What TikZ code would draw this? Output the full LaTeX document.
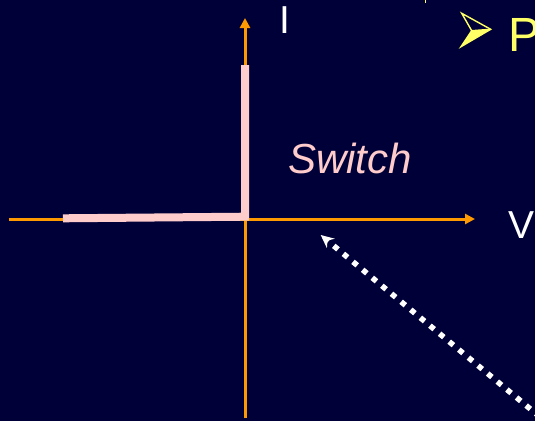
\documentclass[tikz,border=0pt]{standalone}
\usepackage{fontspec}
\setmainfont{Liberation Sans}
\usetikzlibrary{arrows.meta}
\definecolor{slidebg}{RGB}{0,0,56}
\definecolor{axisorange}{RGB}{255,153,0}
\definecolor{switchpink}{RGB}{255,204,204}
\definecolor{bulletyellow}{RGB}{255,255,102}

\begin{document}
\begin{tikzpicture}[x=1pt,y=1pt,
  axis/.style={axisorange,line width=3pt,-{Triangle[length=10pt,width=10pt]}},
  ivline/.style={switchpink,line width=8pt,line join=miter},
  lbl/.style={inner sep=0pt,white,font=\fontsize{39}{39}\selectfont}]
  \fill[slidebg] (-245,-202) rectangle (290,219);
  \clip (-245,-202) rectangle (290,219);
  % axes
  \coordinate (O) at (0,0);
  \coordinate (vmin) at (-236,0);
  \coordinate (vmax) at (230,0);
  \coordinate (imin) at (0,-199);
  \coordinate (imax) at (0,201);
  \draw[axis] (vmin) -- (vmax);
  \draw[axis] (imin) -- (imax);
  \node[lbl] (vlab) at (276.5,-6.5) {V};
  \node[lbl] (ilab) at (40.3,199) {I};
  % switch characteristic
  \coordinate (offend) at (-182,0.7);
  \coordinate (corner) at (0,2.3);
  \coordinate (onend) at (0,154);
  \draw[ivline] (offend) -- (corner) -- (onend);
  \node[inner sep=0pt,switchpink,font=\fontsize{42}{42}\selectfont\itshape] (swlab) at (105,60.5) {Switch};
  % dotted pointer
  \coordinate (ptail) at (295,-198);
  \coordinate (ptip) at (75.7,-16);
  \draw[white,line width=5.5pt,dash pattern=on 5.5pt off 7pt,-{Stealth[length=13pt,width=12pt]}] (ptail) -- (ptip);
  % bullet line (cut off)
  \fill[bulletyellow] (226.7,188.3) -- (245.7,189.7) -- (216,172.3) -- cycle;
  \draw[bulletyellow,line width=1.4pt,line join=miter] (216.7,205.7) -- (245.7,189.7) -- (216,172.3) -- (226.7,188.3) -- cycle;
  \draw[bulletyellow,line width=1.4pt] (226.7,188.3) -- (245.7,189.7);
  \node[inner sep=0pt,anchor=west,bulletyellow,font=\fontsize{48}{48}\selectfont] (plab) at (263,184) {P};
  \draw[bulletyellow,line width=1.6pt] (180.5,219) -- (180.5,216);
\end{tikzpicture}
\end{document}
